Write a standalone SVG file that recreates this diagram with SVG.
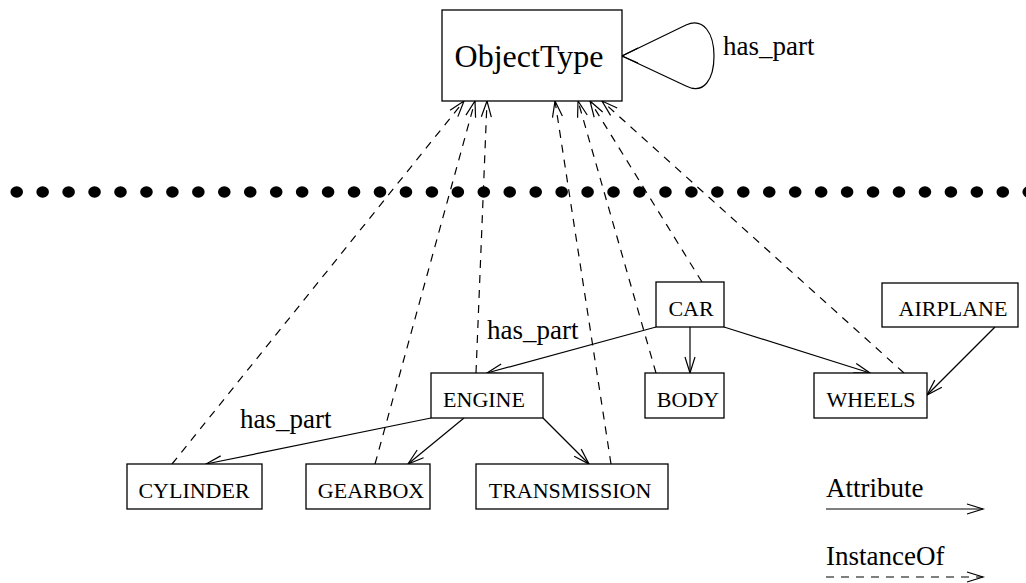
<svg xmlns="http://www.w3.org/2000/svg" width="1026" height="583" viewBox="0 0 1026 583">
  <style>
    .box { fill: #fff; stroke: #000; stroke-width: 1.3; }
    .lbl { font-family: "Liberation Serif", "Times New Roman", serif; font-size: 22px; fill: #000; text-anchor: middle; }
    .big { font-size: 32px; }
    .note { font-family: "Liberation Serif", "Times New Roman", serif; font-size: 27px; fill: #000; }
    .attr { fill: none; stroke: #000; stroke-width: 1.2; marker-end: url(#ah); }
    .inst { fill: none; stroke: #000; stroke-width: 1.2; stroke-dasharray: 8 7; marker-end: url(#ah); }
    .dot { fill: #000; }
  </style>
  <defs>
    <marker id="ah" markerUnits="userSpaceOnUse" markerWidth="20" markerHeight="12" refX="16" refY="5" orient="auto" overflow="visible">
      <path d="M0,0 L16,5 L0,10" fill="none" stroke="#000" stroke-width="1.2" stroke-dasharray="none"/>
    </marker>
    <ellipse id="d" cx="0" cy="0" rx="6.3" ry="5.8" class="dot"/>
  </defs>
  <rect width="1026" height="583" fill="#fff"/>

  <!-- separator between type level and instance level -->
  <g id="separator">
    <use href="#d" x="16.7" y="192"/><use href="#d" x="42.65" y="192"/><use href="#d" x="68.6" y="192"/><use href="#d" x="94.55" y="192"/>
    <use href="#d" x="120.5" y="192"/><use href="#d" x="146.45" y="192"/><use href="#d" x="172.4" y="192"/><use href="#d" x="198.35" y="192"/>
    <use href="#d" x="224.3" y="192"/><use href="#d" x="250.25" y="192"/><use href="#d" x="276.2" y="192"/><use href="#d" x="302.15" y="192"/>
    <use href="#d" x="328.1" y="192"/><use href="#d" x="354.05" y="192"/><use href="#d" x="380" y="192"/><use href="#d" x="405.95" y="192"/>
    <use href="#d" x="431.9" y="192"/><use href="#d" x="457.85" y="192"/><use href="#d" x="483.8" y="192"/><use href="#d" x="509.75" y="192"/>
    <use href="#d" x="535.7" y="192"/><use href="#d" x="561.65" y="192"/><use href="#d" x="587.6" y="192"/><use href="#d" x="613.55" y="192"/>
    <use href="#d" x="639.5" y="192"/><use href="#d" x="665.45" y="192"/><use href="#d" x="691.4" y="192"/><use href="#d" x="717.35" y="192"/>
    <use href="#d" x="743.3" y="192"/><use href="#d" x="769.25" y="192"/><use href="#d" x="795.2" y="192"/><use href="#d" x="821.15" y="192"/>
    <use href="#d" x="847.1" y="192"/><use href="#d" x="873.05" y="192"/><use href="#d" x="899" y="192"/><use href="#d" x="924.95" y="192"/>
    <use href="#d" x="950.9" y="192"/><use href="#d" x="976.85" y="192"/><use href="#d" x="1002.8" y="192"/><use href="#d" x="1028.75" y="192"/>
  </g>

  <!-- connectors -->
  <g id="connectors">
    <!-- InstanceOf links -->
    <line class="inst" x1="172" y1="464" x2="464" y2="101"/>
    <line class="inst" x1="375" y1="464" x2="475" y2="101"/>
    <line class="inst" x1="476" y1="373" x2="487" y2="101"/>
    <line class="inst" x1="611" y1="464" x2="555" y2="101"/>
    <line class="inst" x1="656" y1="373" x2="578" y2="101"/>
    <line class="inst" x1="702" y1="282" x2="590" y2="101"/>
    <line class="inst" x1="904" y1="373" x2="602" y2="101"/>
    <!-- attribute links -->
    <line class="attr" x1="656" y1="327" x2="487" y2="373"/>
    <line class="attr" x1="690" y1="327" x2="690" y2="373"/>
    <line class="attr" x1="724" y1="327" x2="870" y2="373"/>
    <line class="attr" x1="995" y1="327" x2="927" y2="395"/>
    <line class="attr" x1="431" y1="418" x2="206" y2="464"/>
    <line class="attr" x1="464" y1="418" x2="408" y2="464"/>
    <line class="attr" x1="543" y1="418" x2="589" y2="464"/>
    <!-- has_part self loop on ObjectType -->
    <path d="M622,56 L686,25 C704,17 714,34 714,56 C714,79 704,95 686,86 L622,56" fill="none" stroke="#000" stroke-width="1.2"/>
    <path d="M638,48 L622,56 L638,63" fill="none" stroke="#000" stroke-width="1.2"/>
    <text class="note" x="723" y="55">has_part</text>
    <text class="note" x="487" y="339">has_part</text>
    <text class="note" x="240" y="428">has_part</text>
  </g>

  <g id="objecttype">
    <rect class="box" x="442" y="10" width="180" height="91"/>
    <text class="lbl big" x="529" y="67">ObjectType</text>
  </g>
  <g id="car">
    <rect class="box" x="656" y="282" width="68" height="45"/>
    <text class="lbl" x="691" y="316">CAR</text>
  </g>
  <g id="airplane">
    <rect class="box" x="882" y="283" width="136" height="44"/>
    <text class="lbl" x="953" y="316">AIRPLANE</text>
  </g>
  <g id="engine">
    <rect class="box" x="431" y="373" width="112" height="45"/>
    <text class="lbl" x="484" y="407">ENGINE</text>
  </g>
  <g id="body">
    <rect class="box" x="645" y="373" width="79" height="45"/>
    <text class="lbl" x="688" y="407">BODY</text>
  </g>
  <g id="wheels">
    <rect class="box" x="814" y="373" width="113" height="45"/>
    <text class="lbl" x="871" y="407">WHEELS</text>
  </g>
  <g id="cylinder">
    <rect class="box" x="127" y="464" width="135" height="45"/>
    <text class="lbl" x="194" y="498">CYLINDER</text>
  </g>
  <g id="gearbox">
    <rect class="box" x="306" y="464" width="124" height="45"/>
    <text class="lbl" x="371" y="498">GEARBOX</text>
  </g>
  <g id="transmission">
    <rect class="box" x="476" y="464" width="192" height="45"/>
    <text class="lbl" x="570" y="498">TRANSMISSION</text>
  </g>

  <g id="legend">
    <text class="note" x="826" y="497">Attribute</text>
    <line class="attr" x1="826" y1="509" x2="983" y2="509"/>
    <text class="note" x="826" y="565">InstanceOf</text>
    <line class="inst" x1="826" y1="577" x2="983" y2="577"/>
  </g>
</svg>
